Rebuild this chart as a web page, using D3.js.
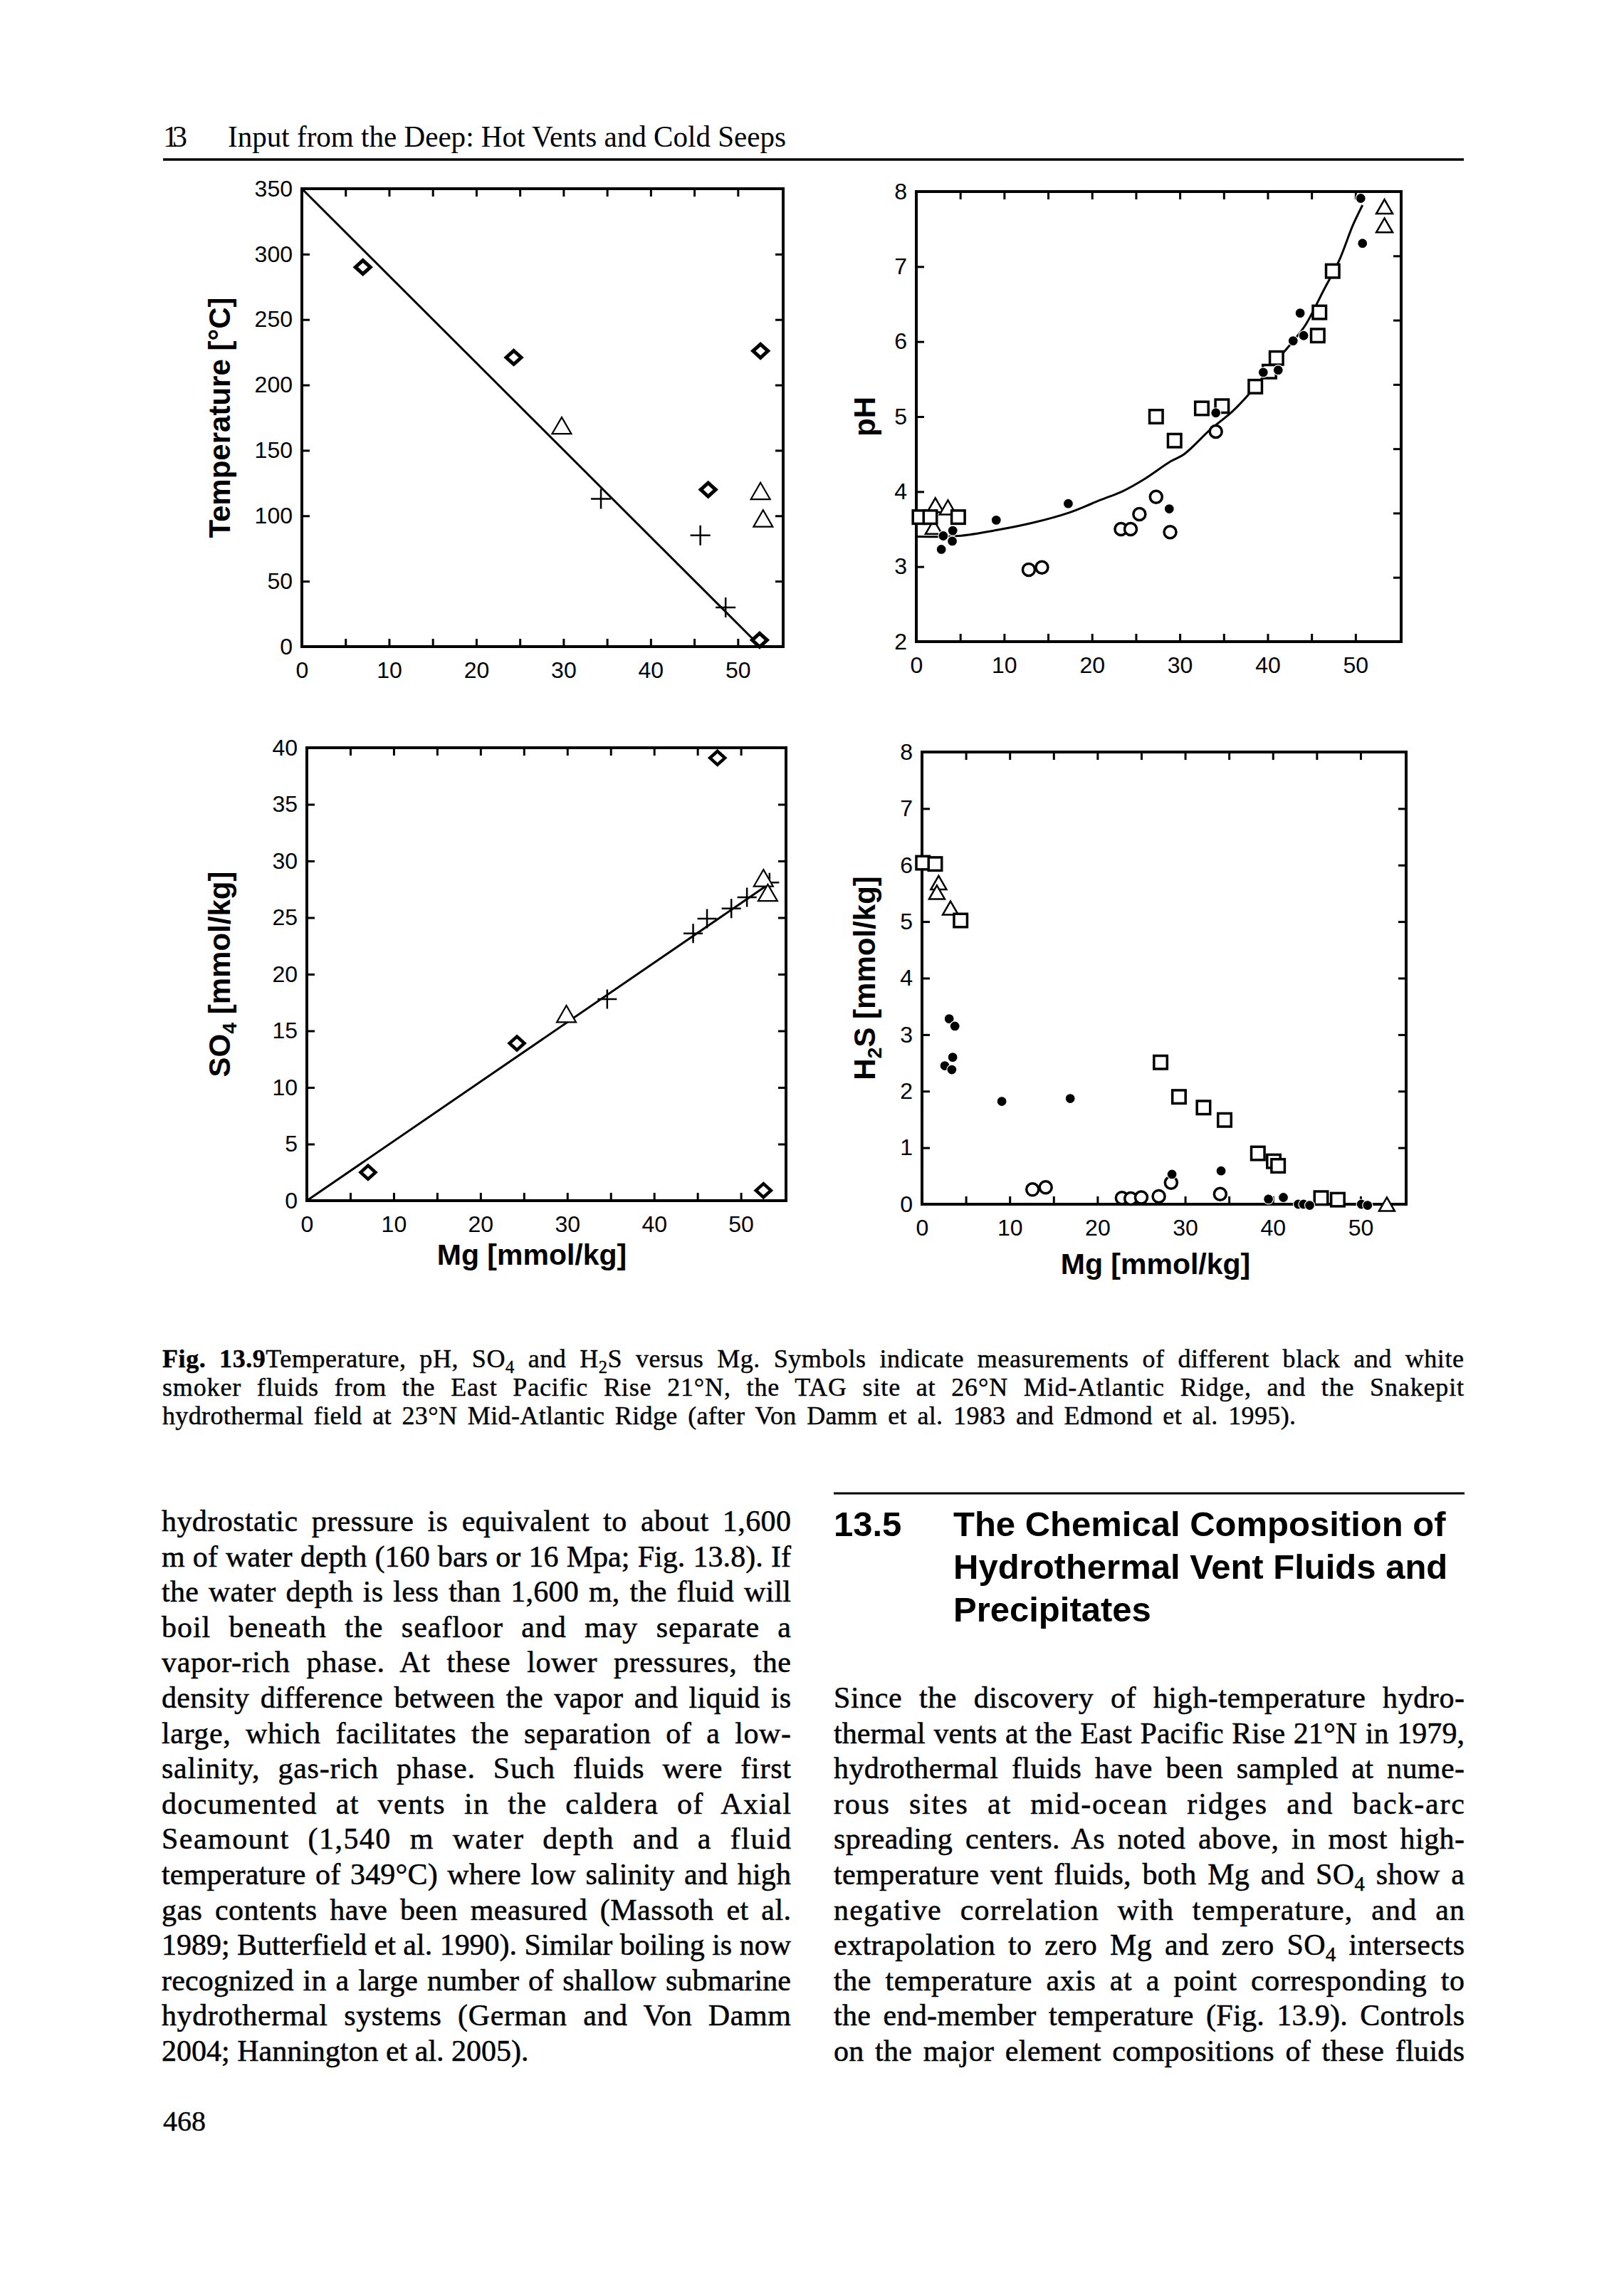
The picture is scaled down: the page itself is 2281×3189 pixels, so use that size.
<!DOCTYPE html>
<html><head><meta charset="utf-8">
<script src="https://cdn.jsdelivr.net/npm/d3@7"></script>
<style>body{margin:0;background:#fff}</style>
</head><body>
<svg id="page" width="2281" height="3189" xmlns="http://www.w3.org/2000/svg"></svg>
<script>
// ---------------- DATA ----------------
const mgLabelTicks = [0, 10, 20, 30, 40, 50];
const mgMinorTicks = [0, 5, 10, 15, 20, 25, 30, 35, 40, 45, 50];
const tempTicks = [0, 50, 100, 150, 200, 250, 300, 350];
const phTicks = [2, 3, 4, 5, 6, 7, 8];
const phRightTicks = [1, 2, 3, 4, 5, 6];          // right-hand frame of the pH panel has 7 divisions
const so4Ticks = [0, 5, 10, 15, 20, 25, 30, 35, 40];
const h2sTicks = [0, 1, 2, 3, 4, 5, 6, 7, 8];

// Temperature vs Mg  [Mg, T]
const tempDiamonds  = [[7.0, 290], [24.3, 221], [46.6, 120], [52.6, 226], [52.5, 5]];
const tempTriangles = [[29.8, 169], [52.6, 119], [52.9, 98]];
const tempCrosses   = [[34.3, 113], [45.7, 85], [48.6, 30]];
const tempLine      = [[0, 350], [52.6, 0]];

// pH vs Mg  [Mg, pH]
const phSquares   = [[0.36, 3.66], [1.58, 3.66], [4.77, 3.66], [27.3, 5.0], [29.4, 4.68], [32.5, 5.11], [34.8, 5.14],
                     [38.6, 5.40], [40.2, 5.60], [41.0, 5.78], [45.7, 6.08], [45.9, 6.39], [47.4, 6.94]];
const phTriangles = [[2.17, 3.82], [3.6, 3.79], [1.98, 3.53], [53.3, 7.80], [53.3, 7.55]];
const phDots      = [[3.07, 3.41], [4.15, 3.48], [4.1, 3.34], [2.85, 3.23], [9.1, 3.62], [17.3, 3.84], [28.8, 3.77],
                     [34.1, 5.05], [39.5, 5.59], [41.2, 5.62], [42.9, 6.01], [44.1, 6.08], [43.7, 6.38], [50.6, 7.91], [50.8, 7.31]];
const phCircles   = [[12.8, 2.96], [14.3, 2.99], [23.3, 3.50], [24.4, 3.50], [25.4, 3.70], [27.3, 3.93], [28.9, 3.46], [34.1, 4.80]];
const phCurve     = [[0, 3.40], [4.8, 3.41], [9.3, 3.49], [13.1, 3.58], [17.4, 3.72], [21, 3.89], [23.4, 4.0], [26, 4.17],
                     [28.9, 4.40], [30.5, 4.50], [33.5, 4.83], [36, 5.07], [38.1, 5.33], [40.5, 5.68], [42.5, 5.95],
                     [44.3, 6.22], [46.4, 6.69], [48.1, 7.07], [49.7, 7.55], [50.8, 7.82]];

// SO4 vs Mg  [Mg, SO4]
const so4Diamonds  = [[47.3, 39.1], [24.2, 13.9], [7.05, 2.5], [52.6, 0.9]];
const so4Triangles = [[29.9, 16.5], [52.6, 28.5], [53.1, 27.2]];
const so4Crosses   = [[34.6, 17.8], [44.5, 23.6], [46.1, 24.9], [48.9, 25.8], [50.7, 26.8], [53.3, 28.1]];
const so4Line      = [[0, 0], [53.3, 28.0]];

// H2S vs Mg  [Mg, H2S]
const h2sSquares   = [[0.1, 6.04], [1.5, 6.02], [4.4, 5.02], [27.2, 2.51], [29.3, 1.90], [32.1, 1.71], [34.5, 1.49],
                      [38.3, 0.90], [40.1, 0.76], [40.6, 0.68], [45.5, 0.11], [47.4, 0.08]];
const h2sTriangles = [[1.9, 5.69], [1.7, 5.52], [3.25, 5.24], [53.0, 0.0]];
const h2sDots      = [[3.1, 3.28], [3.75, 3.15], [2.6, 2.45], [3.5, 2.6], [3.4, 2.38], [9.1, 1.82], [16.9, 1.87],
                      [28.5, 0.53], [34.1, 0.59], [39.5, 0.09], [41.2, 0.12], [42.9, 0.0], [43.5, 0.0], [44.2, -0.02],
                      [50.1, 0.0], [50.8, -0.02]];
const h2sCircles   = [[12.6, 0.26], [14.1, 0.30], [22.8, 0.11], [23.8, 0.10], [25.0, 0.12], [27.0, 0.14], [28.4, 0.38], [34.0, 0.18]];

// ---------------- TEXT ----------------
const headerNum = "13";
const headerTitle = "Input from the Deep: Hot Vents and Cold Seeps";
const captionLines = [
  "*Fig. 13.9*Temperature, pH, SO~4~ and H~2~S versus Mg. Symbols indicate measurements of different black and white",
  "smoker fluids from the East Pacific Rise 21°N, the TAG site at 26°N Mid-Atlantic Ridge, and the Snakepit",
  "hydrothermal field at 23°N Mid-Atlantic Ridge (after Von Damm et al. 1983 and Edmond et al. 1995)."
];
const leftColumn = [
  "hydrostatic pressure is equivalent to about 1,600",
  "m of water depth (160 bars or 16 Mpa; Fig. 13.8). If",
  "the water depth is less than 1,600 m, the fluid will",
  "boil beneath the seafloor and may separate a",
  "vapor-rich phase. At these lower pressures, the",
  "density difference between the vapor and liquid is",
  "large, which facilitates the separation of a low-",
  "salinity, gas-rich phase. Such fluids were first",
  "documented at vents in the caldera of Axial",
  "Seamount (1,540 m water depth and a fluid",
  "temperature of 349°C) where low salinity and high",
  "gas contents have been measured (Massoth et al.",
  "1989; Butterfield et al. 1990). Similar boiling is now",
  "recognized in a large number of shallow submarine",
  "hydrothermal systems (German and Von Damm",
  "2004; Hannington et al. 2005)."
];
const headingNum = "13.5";
const headingLines = ["The Chemical Composition of", "Hydrothermal Vent Fluids and", "Precipitates"];
const rightColumn = [
  "Since the discovery of high-temperature hydro-",
  "thermal vents at the East Pacific Rise 21°N in 1979,",
  "hydrothermal fluids have been sampled at nume-",
  "rous sites at mid-ocean ridges and back-arc",
  "spreading centers. As noted above, in most high-",
  "temperature vent fluids, both Mg and SO~4~ show a",
  "negative correlation with temperature, and an",
  "extrapolation to zero Mg and zero SO~4~ intersects",
  "the temperature axis at a point corresponding to",
  "the end-member temperature (Fig. 13.9). Controls",
  "on the major element compositions of these fluids"
];
const pageNumber = "468";

// ---------------- DRAWING ----------------
const SERIF = "'Liberation Serif','Times New Roman',Times,serif";
const SANS = "'Liberation Sans',Arial,Helvetica,sans-serif";
const MG_MAX = 55.2;
const svg = d3.select('#page');
svg.append('rect').attr('width', 2281).attr('height', 3189).attr('fill', '#fff');

function drawPanel(p) {
  const xs = d3.scaleLinear().domain([0, MG_MAX]).range([p.x0, p.x1]);
  const ys = d3.scaleLinear().domain(p.yDomain).range([p.y1, p.y0]);
  const g = svg.append('g');
  const T = 11;
  const styleAxis = sel => {
    sel.select('.domain').remove();
    sel.selectAll('line').attr('stroke', '#000').attr('stroke-width', 3);
    sel.selectAll('text').attr('font-family', SANS).attr('font-size', 32).attr('fill', '#000');
  };
  g.append('g').attr('transform', `translate(0,${p.y1})`)
    .call(d3.axisBottom(xs).tickValues(mgMinorTicks).tickSizeInner(-T).tickSizeOuter(0).tickPadding(21)
      .tickFormat(d => mgLabelTicks.includes(d) ? String(d) : ''))
    .call(styleAxis);
  g.append('g').attr('transform', `translate(0,${p.y0})`)
    .call(d3.axisTop(xs).tickValues(mgMinorTicks).tickSizeInner(-T).tickSizeOuter(0).tickFormat(''))
    .call(styleAxis);
  g.append('g').attr('transform', `translate(${p.x0},0)`)
    .call(d3.axisLeft(ys).tickValues(p.yTicks).tickSizeInner(-T).tickSizeOuter(0).tickPadding(13).tickFormat(d => String(d)))
    .call(styleAxis);
  const rs = p.rightDomain ? d3.scaleLinear().domain(p.rightDomain).range([p.y1, p.y0]) : ys;
  g.append('g').attr('transform', `translate(${p.x1},0)`)
    .call(d3.axisRight(rs).tickValues(p.rightTicks || p.yTicks).tickSizeInner(-T).tickSizeOuter(0).tickFormat(''))
    .call(styleAxis);
  g.append('rect').attr('x', p.x0).attr('y', p.y0).attr('width', p.x1 - p.x0).attr('height', p.y1 - p.y0)
    .attr('fill', 'none').attr('stroke', '#000').attr('stroke-width', 4);

  const yt = g.append('text').attr('transform', `translate(${p.yTitleX},${(p.y0 + p.y1) / 2}) rotate(-90)`)
    .attr('text-anchor', 'middle').attr('font-family', SANS).attr('font-weight', 'bold').attr('font-size', 42).attr('fill', '#000');
  rich(yt, p.yTitle, 42);
  if (p.xTitle) {
    g.append('text').attr('x', p.xTitleX).attr('y', p.xTitleY).attr('text-anchor', 'middle')
      .attr('font-family', SANS).attr('font-weight', 'bold').attr('font-size', 41).attr('fill', '#000').text(p.xTitle);
  }
  const mg = g.append('g');
  return {g: mg, xs, ys};
}

function drawLine(P, data, curve, sw) {
  const line = d3.line().x(d => P.xs(d[0])).y(d => P.ys(d[1]));
  if (curve) line.curve(d3.curveCatmullRom.alpha(0.5));
  P.g.append('path').attr('d', line(data)).attr('fill', 'none').attr('stroke', '#000').attr('stroke-width', sw);
}
function diamonds(P, data, hx, hy, sw) {
  P.g.selectAll(null).data(data).join('path')
    .attr('d', d => { const x = P.xs(d[0]), y = P.ys(d[1]); return `M${x},${y - hy}L${x + hx},${y}L${x},${y + hy}L${x - hx},${y}Z`; })
    .attr('fill', '#fff').attr('stroke', '#000').attr('stroke-width', sw).attr('stroke-linejoin', 'miter');
}
function triangles(P, data, a, sw) {
  const h = a * 0.866;
  P.g.selectAll(null).data(data).join('path')
    .attr('d', d => { const x = P.xs(d[0]), y = P.ys(d[1]); return `M${x},${y - h / 2}L${x + a / 2},${y + h / 2}L${x - a / 2},${y + h / 2}Z`; })
    .attr('fill', '#fff').attr('stroke', '#000').attr('stroke-width', sw).attr('stroke-linejoin', 'miter');
}
function crosses(P, data, a, sw) {
  P.g.selectAll(null).data(data).join('path')
    .attr('d', d => { const x = P.xs(d[0]), y = P.ys(d[1]); return `M${x - a},${y}H${x + a}M${x},${y - a}V${y + a}`; })
    .attr('fill', 'none').attr('stroke', '#000').attr('stroke-width', sw);
}
function squares(P, data, s, sw) {
  P.g.selectAll(null).data(data).join('rect')
    .attr('x', d => P.xs(d[0]) - s / 2).attr('y', d => P.ys(d[1]) - s / 2).attr('width', s).attr('height', s)
    .attr('fill', '#fff').attr('stroke', '#000').attr('stroke-width', sw);
}
function circles(P, data, r, sw) {
  P.g.selectAll(null).data(data).join('circle')
    .attr('cx', d => P.xs(d[0])).attr('cy', d => P.ys(d[1])).attr('r', r)
    .attr('fill', '#fff').attr('stroke', '#000').attr('stroke-width', sw);
}
function dots(P, data, r) {
  P.g.selectAll(null).data(data).join('circle')
    .attr('cx', d => P.xs(d[0])).attr('cy', d => P.ys(d[1])).attr('r', r)
    .attr('fill', '#000').attr('stroke', '#fff').attr('stroke-width', 1.2);
}

// rich text: *bold* and ~subscript~
function rich(textSel, str, size) {
  const parts = str.split(/(\*[^*]+\*|~[^~]+~)/).filter(s => s.length);
  let shifted = false;
  parts.forEach(part => {
    if (part.startsWith('*')) {
      const t = textSel.append('tspan').attr('font-weight', 'bold').text(part.slice(1, -1));
      if (shifted) { t.attr('dy', -size * 0.22); shifted = false; }
    } else if (part.startsWith('~')) {
      textSel.append('tspan').attr('font-size', size * 0.68).attr('dy', size * 0.22).text(part.slice(1, -1));
      shifted = true;
    } else {
      const t = textSel.append('tspan').text(part);
      if (shifted) { t.attr('dy', -size * 0.22); shifted = false; }
    }
  });
}
function textLine(str, x, y, size, family, weight, width, heavy) {
  const t = svg.append('text').attr('x', x).attr('y', y).attr('font-family', family).attr('font-size', size)
    .attr('font-weight', weight || 'normal').attr('fill', '#000');
  if (heavy) t.attr('stroke', '#000').attr('stroke-width', heavy);
  rich(t, str, size);
  if (width) {
    const nat = t.node().getComputedTextLength();
    const nSp = (t.text().match(/ /g) || []).length;
    const extra = width - nat;
    if (extra > 0 && nSp > 0) t.style('word-spacing', Math.min(extra * 0.7 / nSp, 14) + 'px');
    t.attr('textLength', width).attr('lengthAdjust', 'spacing');
  }
  return t;
}

// Panel 1: Temperature
const P1 = drawPanel({x0: 424, x1: 1100, y0: 265, y1: 908, yDomain: [0, 350], yTicks: tempTicks,
  yTitle: 'Temperature [°C]', yTitleX: 323});
drawLine(P1, tempLine, false, 3);
crosses(P1, tempCrosses, 14, 2.5);
triangles(P1, tempTriangles, 27, 2.2);
diamonds(P1, tempDiamonds, 10.5, 9.5, 5);

// Panel 2: pH
const P2 = drawPanel({x0: 1287, x1: 1968, y0: 269, y1: 901, yDomain: [2, 8], yTicks: phTicks,
  rightDomain: [0, 7], rightTicks: phRightTicks, yTitle: 'pH', yTitleX: 1229});
drawLine(P2, phCurve, true, 3);
triangles(P2, phTriangles, 23, 2.5);
squares(P2, phSquares, 18.5, 3.5);
circles(P2, phCircles, 8.5, 3.5);
dots(P2, phDots, 7);

// Panel 3: SO4
const P3 = drawPanel({x0: 431, x1: 1104, y0: 1050, y1: 1686, yDomain: [0, 40], yTicks: so4Ticks,
  yTitle: 'SO~4~ [mmol/kg]', yTitleX: 323, xTitle: 'Mg [mmol/kg]', xTitleX: 747, xTitleY: 1776});
drawLine(P3, so4Line, false, 3);
crosses(P3, so4Crosses, 13.5, 2.5);
triangles(P3, so4Triangles, 27, 2.2);
diamonds(P3, so4Diamonds, 10.5, 9.5, 4.5);

// Panel 4: H2S
const P4 = drawPanel({x0: 1295, x1: 1975, y0: 1056, y1: 1691, yDomain: [0, 8], yTicks: h2sTicks,
  yTitle: 'H~2~S [mmol/kg]', yTitleX: 1229, xTitle: 'Mg [mmol/kg]', xTitleX: 1623, xTitleY: 1789});
triangles(P4, h2sTriangles, 22, 2.5);
squares(P4, h2sSquares, 18.5, 3.5);
circles(P4, h2sCircles, 8.5, 3.5);
dots(P4, h2sDots, 7);

// ---- page text ----
textLine(headerNum, 229, 206, 42, SERIF, 'normal', 34);
svg.append('text').attr('x', 320).attr('y', 206).attr('font-family', SERIF).attr('font-size', 42).attr('fill', '#000')
  .attr('textLength', 784).attr('lengthAdjust', 'spacingAndGlyphs').text(headerTitle);
svg.append('line').attr('x1', 229).attr('x2', 2056).attr('y1', 224).attr('y2', 224).attr('stroke', '#000').attr('stroke-width', 3.5);

const capY = [1920, 1960, 2000];
captionLines.forEach((l, i) => textLine(l, 228, capY[i], 36, SERIF, 'normal', i < 2 ? 1828 : 1592, 0.4));

leftColumn.forEach((l, i) => textLine(l, 227, 2150 + i * 49.6, 42, SERIF, 'normal', i < leftColumn.length - 1 ? 884 : null, 0.5));

svg.append('line').attr('x1', 1171).attr('x2', 2057).attr('y1', 2097).attr('y2', 2097).attr('stroke', '#000').attr('stroke-width', 3);
textLine(headingNum, 1171, 2157, 49, SANS, 'bold');
headingLines.forEach((l, i) => textLine(l, 1339, 2157 + i * 60, 49, SANS, 'bold'));

rightColumn.forEach((l, i) => textLine(l, 1171, 2398 + i * 49.6, 42, SERIF, 'normal', 886, 0.5));

textLine(pageNumber, 229, 2992, 40, SERIF, 'normal', null, 0.4);
</script>
</body></html>
